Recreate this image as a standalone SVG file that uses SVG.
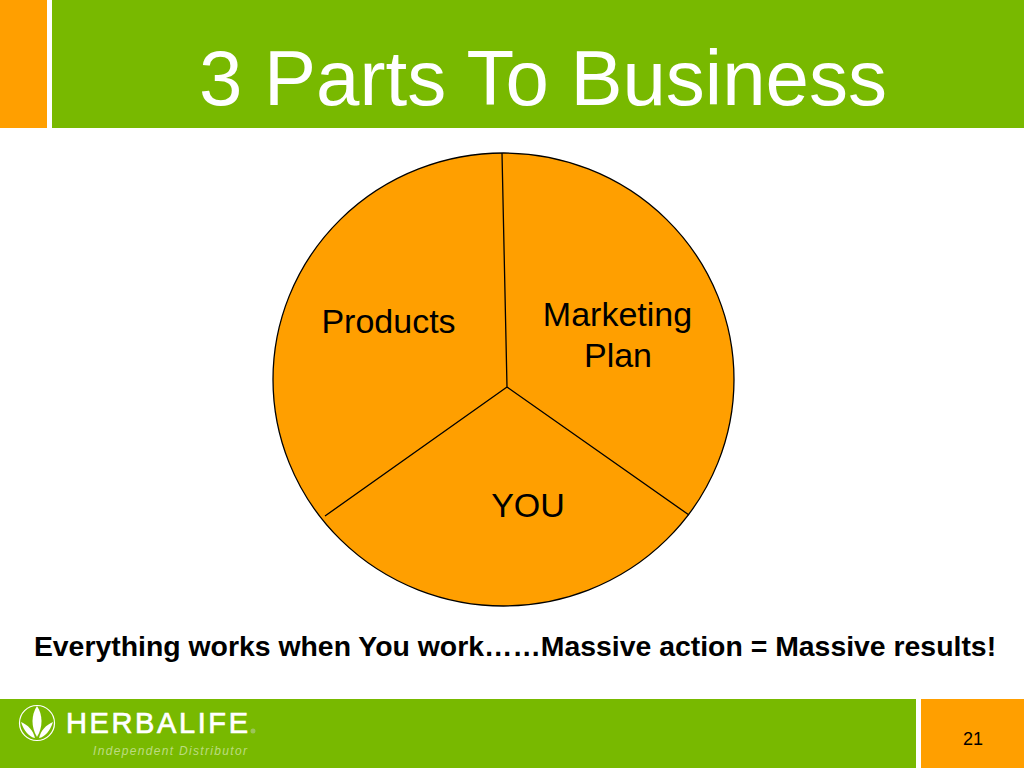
<svg xmlns="http://www.w3.org/2000/svg" width="1024" height="768" viewBox="0 0 1024 768">
<style>
text{font-family:"Liberation Sans",Arial,sans-serif;fill:#000}
.o{fill:#ff9f00}.g{fill:#78b900}
.l{font-size:34px;text-anchor:middle}
.w{stroke:none;fill:#fff}
</style>
<rect width="1024" height="768" fill="#fff"/>
<g id="header">
<rect class="o" x="0" y="0" width="47" height="128"/>
<rect class="g" x="52" y="0" width="972" height="128"/>
<text x="543" y="105" font-size="78" text-anchor="middle" style="fill:#fff">3 Parts To Business</text>
</g>
<g id="pie">
<ellipse cx="503.500" cy="379.500" rx="230.500" ry="226.500" fill="#ff9f00" stroke="#000" stroke-width="1.300"/>
</g>
<g id="connectors" fill="none" stroke="#000" stroke-width="1.300">
<path d="M502 153L507 387M507 387L325 516M507 387L689 515"/>
</g>
<g id="products"><text class="l" x="388.500" y="333">Products</text></g>
<g id="marketing"><text class="l" x="617.500" y="326">Marketing</text><text class="l" x="618" y="367">Plan</text></g>
<g id="you"><text class="l" x="528" y="517">YOU</text></g>
<g id="caption"><text x="515" y="656" font-size="28.400" font-weight="700" text-anchor="middle">Everything works when You work……Massive action = Massive results!</text></g>
<g id="footer">
<rect class="g" x="0" y="699" width="916" height="69"/>
<rect class="o" x="921" y="699" width="103" height="69"/>
<text x="973" y="745" font-size="18" text-anchor="middle">21</text>
</g>
<g id="logo">
<circle cx="37" cy="723" r="17.500" fill="none" stroke="#fff" stroke-width="1.200"/>
<path class="w" d="M37 706C31 715 31 727 37 737C43 727 43 715 37 706Z"/>
<path class="w" d="M21 722C24 731 29 737 35 738C33 730 28 725 21 722Z"/>
<path class="w" d="M53 722C50 731 45 737 39 738C41 730 46 725 53 722Z"/>
<text x="66" y="733" font-size="29" textLength="182" lengthAdjust="spacing" stroke="#fff" stroke-width="0.700" style="fill:#fff">HERBALIFE</text>
<circle cx="253" cy="731" r="2.500" fill="#9cc45a"/>
<text x="93" y="755" font-size="12" font-style="italic" textLength="154" lengthAdjust="spacing" style="fill:#bcdc80">Independent Distributor</text>
</g>
</svg>
